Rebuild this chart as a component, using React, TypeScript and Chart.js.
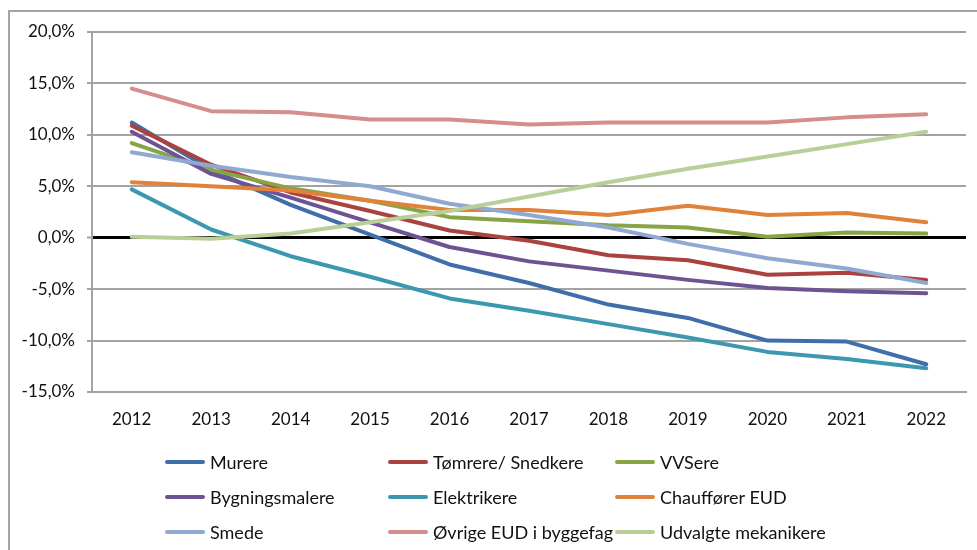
import React, { useEffect, useRef } from "react";
import { Chart, registerables } from "chart.js";

Chart.register(...registerables);

const years = ["2012", "2013", "2014", "2015", "2016", "2017", "2018", "2019", "2020", "2021", "2022"];

const murere = [11.2, 6.6, 3.2, 0.3, -2.6, -4.4, -6.5, -7.8, -10.0, -10.1, -12.3];
const toemrere = [10.9, 7.1, 4.4, 2.6, 0.7, -0.3, -1.7, -2.2, -3.6, -3.4, -4.1];
const vvsere = [9.2, 6.6, 4.8, 3.6, 2.0, 1.6, 1.2, 1.0, 0.1, 0.5, 0.4];
const bygningsmalere = [10.3, 6.2, 3.9, 1.5, -0.9, -2.3, -3.2, -4.1, -4.9, -5.2, -5.4];
const elektrikere = [4.7, 0.8, -1.8, -3.8, -5.9, -7.1, -8.4, -9.7, -11.1, -11.8, -12.7];
const chauffoerer = [5.4, 5.0, 4.6, 3.6, 2.7, 2.7, 2.2, 3.1, 2.2, 2.4, 1.5];
const smede = [8.3, 7.0, 5.9, 5.0, 3.3, 2.2, 1.0, -0.6, -2.0, -3.0, -4.4];
const oevrige = [14.5, 12.3, 12.2, 11.5, 11.5, 11.0, 11.2, 11.2, 11.2, 11.7, 12.0];
const mekanikere = [0.1, -0.1, 0.4, 1.5, 2.6, 4.0, 5.4, 6.7, 7.9, 9.1, 10.3];

const seriesNames = [
  "Murere",
  "Tømrere/ Snedkere",
  "VVSere",
  "Bygningsmalere",
  "Elektrikere",
  "Chauffører EUD",
  "Smede",
  "Øvrige EUD i byggefag",
  "Udvalgte mekanikere",
];
const seriesData = [murere, toemrere, vvsere, bygningsmalere, elektrikere, chauffoerer, smede, oevrige, mekanikere];
const seriesColors = [
  "#3F6EAA",
  "#AA423F",
  "#87A447",
  "#6E5392",
  "#3B98AF",
  "#E0823A",
  "#8FA9D2",
  "#D48E8E",
  "#B8CF98",
];

const yMin = -15;
const yMax = 20;
const yStep = 5;

const FONT = "Lato, 'Open Sans', sans-serif";

export default function App() {
  const canvasRef = useRef<HTMLCanvasElement | null>(null);

  useEffect(() => {
    const canvas = canvasRef.current;
    if (!canvas) return;
    const chart = new Chart(canvas, {
      type: "line",
      data: {
        labels: years,
        datasets: seriesNames.map((name, i) => ({
          label: name,
          data: seriesData[i],
          borderColor: seriesColors[i],
          backgroundColor: seriesColors[i],
          borderWidth: 4,
          pointRadius: 0,
          pointHoverRadius: 0,
          tension: 0,
          fill: false,
          borderCapStyle: "round",
          borderJoinStyle: "round",
          order: seriesNames.length - i,
        })),
      },
      options: {
        responsive: false,
        animation: false,
        events: [],
        layout: { padding: { top: 32, right: 11, bottom: 0, left: 0 } },
        plugins: {
          legend: { display: false },
          tooltip: { enabled: false },
        },
        scales: {
          x: {
            type: "category",
            offset: true,
            grid: { display: false, drawTicks: false, offset: true },
            border: { display: true, color: "#a3a3a3", width: 2 },
            ticks: {
              color: "#111",
              font: { family: FONT, size: 17 },
              padding: 17,
              maxRotation: 0,
            },
            afterFit: (scale: any) => {
              scale.height = 158;
            },
          },
          y: {
            min: yMin,
            max: yMax,
            ticks: {
              stepSize: yStep,
              color: "#111",
              font: { family: FONT, size: 17 },
              padding: 12,
              callback: (v: any) => Number(v).toFixed(1).replace(".", ",") + "%",
            },
            grid: {
              drawTicks: true,
              tickLength: 5,
              color: (ctx: any) => (ctx.tick && ctx.tick.value === 0 ? "#000" : "#a3a3a3"),
              lineWidth: (ctx: any) => (ctx.tick && ctx.tick.value === 0 ? 3 : 2),
              tickColor: "#a3a3a3",
              tickWidth: 2,
            },
            border: { display: true, color: "#a3a3a3", width: 2 },
            afterFit: (scale: any) => {
              scale.width = 92;
            },
          },
        },
      },
    });
    return () => chart.destroy();
  }, []);

  const colLeft = [165, 388, 615];
  const rowTop = [462, 497, 532];

  return (
    <div
      style={{
        position: "fixed",
        left: 0,
        top: 0,
        width: 977,
        height: 550,
        overflow: "hidden",
        background: "#fff",
      }}
    >
      <div
        style={{
          position: "absolute",
          left: 8,
          top: 10,
          width: 1100,
          height: 700,
          borderTop: "2px solid #a3a3a3",
          borderLeft: "2px solid #a3a3a3",
          boxSizing: "border-box",
        }}
      />
      <canvas
        ref={canvasRef}
        width={977}
        height={550}
        style={{ position: "absolute", left: 0, top: 0, width: 977, height: 550 }}
      />
      {seriesNames.map((name, i) => (
        <div
          key={name}
          style={{
            position: "absolute",
            left: colLeft[i % 3],
            top: rowTop[Math.floor(i / 3)] - 12,
            height: 24,
            display: "flex",
            alignItems: "center",
            fontFamily: FONT,
            fontSize: 18,
            color: "#111",
            whiteSpace: "nowrap",
          }}
        >
          <span
            style={{
              display: "inline-block",
              width: 40,
              height: 4,
              borderRadius: 2,
              background: seriesColors[i],
              marginRight: 5,
            }}
          />
          <span>{name}</span>
        </div>
      ))}
    </div>
  );
}
